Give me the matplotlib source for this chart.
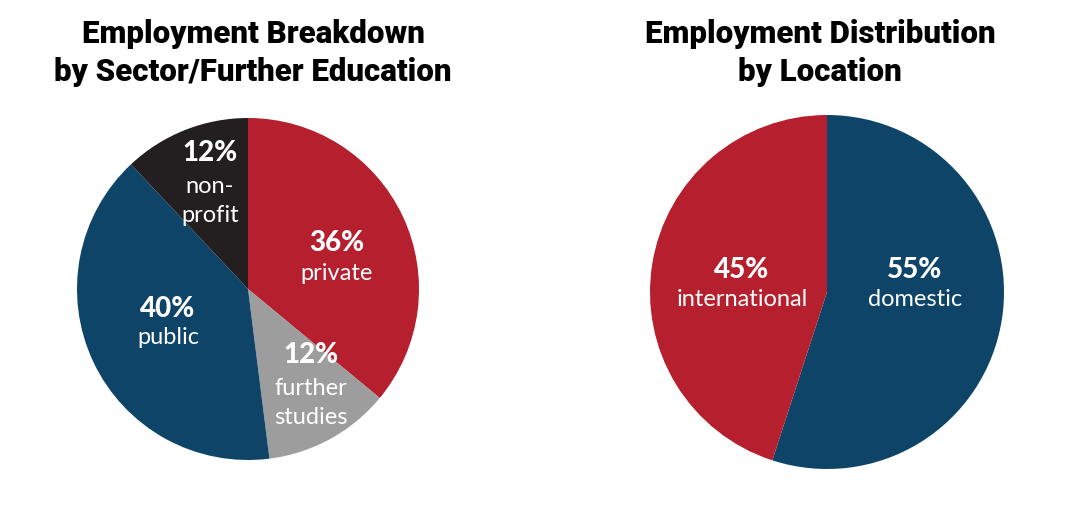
import matplotlib
matplotlib.use("Agg")
import matplotlib.pyplot as plt

# Data
sector_labels = ["private", "further\nstudies", "public", "non-\nprofit"]
sector_values = [36, 12, 40, 12]
sector_colors = ["#B51F2E", "#9D9D9D", "#0E4468", "#231F20"]

location_labels = ["domestic", "international"]
location_values = [55, 45]
location_colors = ["#0E4468", "#B51F2E"]

title_left = "Employment Breakdown\nby Sector/Further Education"
title_right = "Employment Distribution\nby Location"

W, H = 1082, 510
fig = plt.figure(figsize=(W / 100, H / 100), dpi=100)
ax = fig.add_axes([0, 0, 1, 1])

def py(y):
    return H - y

ax.pie(sector_values, colors=sector_colors, startangle=90, counterclock=False,
       center=(248, py(290)), radius=171, frame=True,
       wedgeprops=dict(linewidth=0))
ax.pie(location_values, colors=location_colors, startangle=90, counterclock=False,
       center=(827, py(293)), radius=177, frame=True,
       wedgeprops=dict(linewidth=0))
ax.set_xlim(0, W)
ax.set_ylim(0, H)
ax.set_aspect("equal")
ax.axis("off")

FONT = ["Lato", "DejaVu Sans"]
pct_kw = dict(color="white", fontsize=20, fontweight="black", family=FONT,
              ha="center", va="center")
lab_kw = dict(color="white", fontsize=17, family=FONT, ha="center", va="center",
              linespacing=1.45)

# left pie labels (pixel positions: x, pct y, label y)
left_pos = [(337, 243, 273), (311, 355, 403), (168, 309, 338), (210, 153, 201)]
for (x, yp, yl), lab, v in zip(left_pos, sector_labels, sector_values):
    ax.text(x, py(yp), f"{v}%", **pct_kw)
    ax.text(x, py(yl), lab, **lab_kw)

right_pos = [(915, 270, 300), (742, 270, 300)]
for (x, yp, yl), lab, v in zip(right_pos, location_labels, location_values):
    ax.text(x, py(yp), f"{v}%", **pct_kw)
    ax.text(x, py(yl), lab, **lab_kw)

title_kw = dict(color="black", fontsize=22.5, fontweight="black", family=["Roboto", "DejaVu Sans"],
                ha="center", va="center", linespacing=1.36)
ax.text(253, py(53), title_left, **title_kw)
ax.text(820, py(53), title_right, **title_kw)

fig.savefig("out.png", dpi=100, facecolor="white")
